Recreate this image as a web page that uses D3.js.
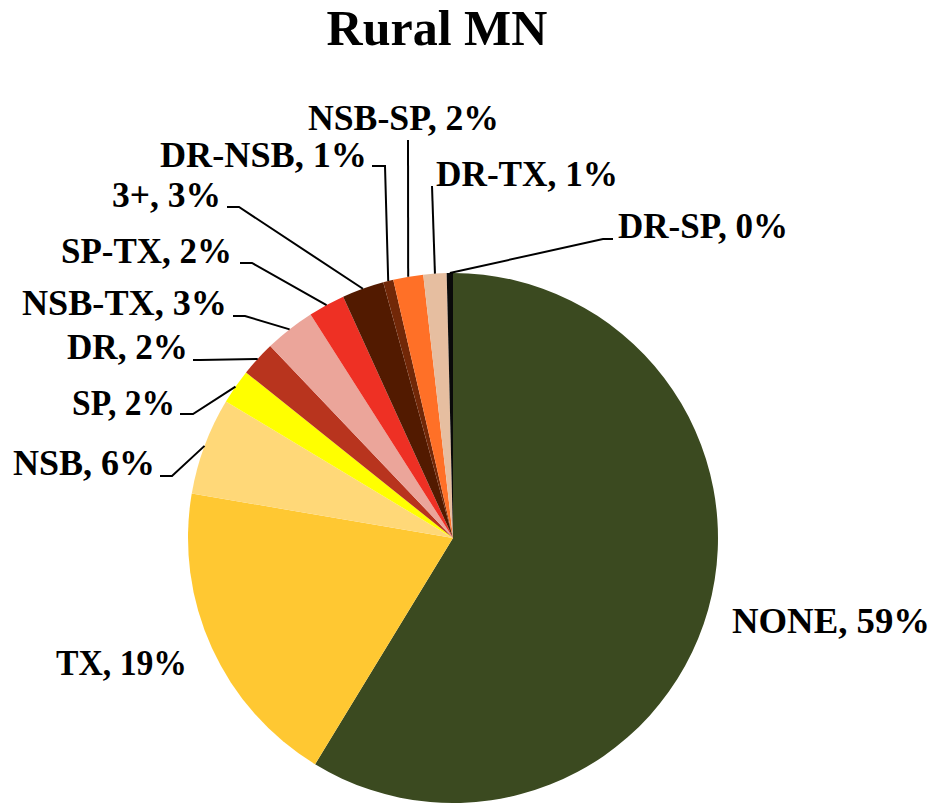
<!DOCTYPE html>
<html><head><meta charset="utf-8">
<script src="https://cdn.jsdelivr.net/npm/d3@7"></script>
<style>body{margin:0;background:#fff}svg{display:block}</style>
</head><body>
<script>
const categories = ["NONE","TX","NSB","SP","DR","NSB-TX","SP-TX","3+","DR-NSB","NSB-SP","DR-TX","DR-SP"];
const values = [58.7,18.97,5.93,2.12,2.15,3.08,2.23,2.56,0.62,1.83,1.41,0.38];
const colors = ["#3B4A20","#FFC832","#FFD878","#FFFF00","#B8341E","#EBA59A","#EE3024","#521A00","#722808","#FF7027","#E6BEA0","#0A0A0A"];
// label layout: text start x, baseline y, leader start and elbow
const labelLayout = [
  {x:732,y:633,elbow:null,start:null},
  {x:56,y:675,elbow:null,start:null},
  {x:13,y:475,start:[160,476],elbow:[172,476]},
  {x:72,y:415,start:[180,414],elbow:[193,414]},
  {x:67,y:359,start:[193,360],elbow:[200,360]},
  {x:22,y:315,start:[233,316],elbow:[245,316]},
  {x:61,y:263,start:[240,263],elbow:[252,263]},
  {x:112,y:207,start:[227,207],elbow:[239,207]},
  {x:160,y:167,start:[372,166],elbow:[385,166]},
  {x:308,y:130,start:[408,140],elbow:[408,140]},
  {x:436,y:186,start:[432,186],elbow:[432,186]},
  {x:618,y:238,start:[613,239],elbow:[603,239]}
];
const labelRight = [930,187,155,175,188,227,232,221,367,499,618,788];
const W=937,H=804,cx=453,cy=538,R=265;
const FONT="'Liberation Serif','DejaVu Serif','Times New Roman',serif";
const svg=d3.select("body").append("svg").attr("width",W).attr("height",H);
svg.append("text").attr("x",437).attr("y",45).attr("text-anchor","middle")
  .attr("font-family",FONT).attr("font-weight","bold").attr("font-size",50).text("Rural MN");
const pie=d3.pie().sort(null).value(d=>d)(values);
const arc=d3.arc().innerRadius(0).outerRadius(R);
const g=svg.append("g").attr("transform",`translate(${cx},${cy})`);
g.selectAll("path").data(pie).join("path").attr("d",arc).attr("fill",(d,i)=>colors[i]);
const total=d3.sum(values);
pie.forEach((d,i)=>{
  const L=labelLayout[i];
  if(L.start){
    const a=(d.startAngle+d.endAngle)/2;
    const ex=cx+R*Math.sin(a), ey=cy-R*Math.cos(a);
    svg.append("path").attr("d",d3.line()([L.start,L.elbow,[ex,ey]])).attr("fill","none").attr("stroke","#000").attr("stroke-width",2);
  }
  svg.append("text").attr("x",L.x).attr("y",L.y)
    .attr("font-family",FONT).attr("font-weight","bold").attr("font-size",35)
    .attr("textLength",labelRight[i]-L.x).attr("lengthAdjust","spacingAndGlyphs")
    .text(`${categories[i]}, ${Math.round(values[i]/total*100)}%`);
});
</script>
</body></html>
